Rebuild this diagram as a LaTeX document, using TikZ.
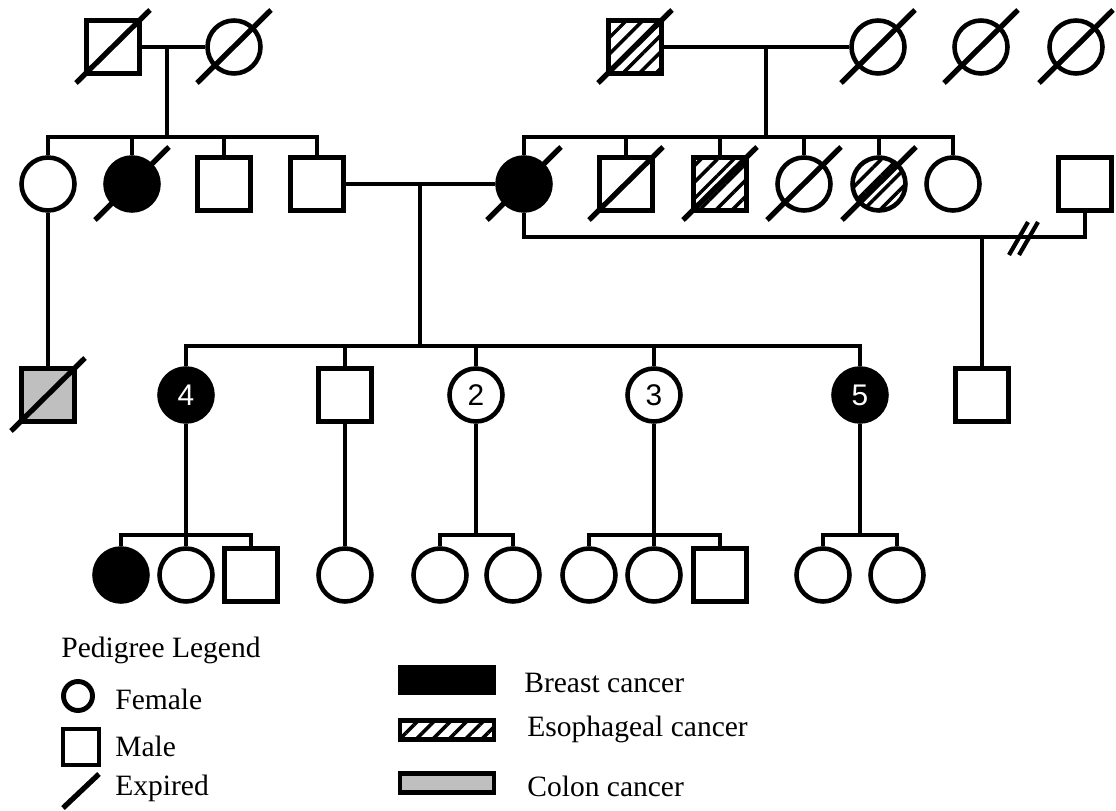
\documentclass[tikz,border=0pt]{standalone}
\usepackage{fontspec}
\setmainfont{Liberation Serif}
\newfontfamily\digitfont{Liberation Sans}
\usetikzlibrary{patterns.meta}
\tikzset{
  person/.style={draw=black, line width=2.6pt, inner sep=0pt, minimum size=1.06cm},
  female/.style={person, circle},
  male/.style={person, rectangle},
  breast/.style={fill=black},
  esoph/.style={pattern={Lines[angle=45,distance=6.6pt,line width=2pt]}},
  colon/.style={fill=black!25},
  numtag/.style={font=\digitfont\fontsize{17pt}{19pt}\selectfont},
  kinline/.style={draw=black, line width=2.3pt},
  slash/.style={draw=black, line width=3pt},
  legbox/.style={draw=black, line width=2.6pt, inner sep=0pt, minimum width=1.88cm},
  legtext/.style={anchor=west, inner sep=0pt, font=\fontsize{16.8pt}{19pt}\selectfont}
}
\newcommand{\expire}[1]{\draw[slash] ([shift={(-37,36)}]#1.center) -- ([shift={(37,-37)}]#1.center);}

\begin{document}
\begin{tikzpicture}[x=0.02cm, y=-0.02cm]
    \useasboundingbox (0,0) rectangle (1116,811);

    % generation I
    \node[male] (iA) at (113,47) {};
    \node[female] (iB) at (234,47) {};
    \node[male, esoph] (iC) at (635,47) {};
    \node[female] (iD) at (878,47) {};
    \node[female] (iE) at (981,47) {};
    \node[female] (iF) at (1076,47) {};

    % generation II
    \node[female] (iiA) at (48,184) {};
    \node[female, breast] (iiB) at (132,184) {};
    \node[male] (iiC) at (224,184) {};
    \node[male] (iiD) at (317,184) {};
    \node[female, breast] (iiE) at (524,184) {};
    \node[male] (iiF) at (626,184) {};
    \node[male, esoph] (iiG) at (720,184) {};
    \node[female] (iiH) at (804,184) {};
    \node[female, esoph] (iiI) at (879,184) {};
    \node[female] (iiJ) at (953,184) {};
    \node[male] (iiK) at (1085,184) {};

    % generation III
    \node[male, colon] (iiiA) at (48,395) {};
    \node[female, breast, numtag, text=white] (iiiB) at (186,395) {4};
    \node[male] (iiiC) at (345,395) {};
    \node[female, numtag] (iiiD) at (476,395) {2};
    \node[female, numtag] (iiiE) at (654,395) {3};
    \node[female, breast, numtag, text=white] (iiiF) at (860,395) {5};
    \node[male] (iiiG) at (982,395) {};

    % generation IV
    \node[female, breast] (ivA) at (121,575) {};
    \node[female] (ivB) at (186,575) {};
    \node[male] (ivC) at (251,575) {};
    \node[female] (ivD) at (345,575) {};
    \node[female] (ivE) at (440,575) {};
    \node[female] (ivF) at (513,575) {};
    \node[female] (ivG) at (589,575) {};
    \node[female] (ivH) at (654,575) {};
    \node[male] (ivI) at (720,575) {};
    \node[female] (ivJ) at (823,575) {};
    \node[female] (ivK) at (897,575) {};

    \expire{iA} \expire{iB} \expire{iC} \expire{iD} \expire{iE} \expire{iF}
    \expire{iiB} \expire{iiE} \expire{iiF} \expire{iiG} \expire{iiH} \expire{iiI}
    \expire{iiiA}

    % unions and sibships
    \coordinate (m1) at (167,47);
    \coordinate (s1) at (167,137);
    \draw[kinline] (iA) -- (iB);
    \draw[kinline] (m1) -- (s1);
    \draw[kinline] (iiA.north) |- (s1) -| (iiD.north);
    \draw[kinline] (iiB.north) -- (iiB.north |- s1);
    \draw[kinline] (iiC.north) -- (iiC.north |- s1);

    \coordinate (m2) at (766,47);
    \coordinate (s2) at (766,137);
    \draw[kinline] (iC) -- (iD);
    \draw[kinline] (m2) -- (s2);
    \draw[kinline] (iiE.north) |- (s2) -| (iiJ.north);
    \draw[kinline] (iiF.north) -- (iiF.north |- s2);
    \draw[kinline] (iiG.north) -- (iiG.north |- s2);
    \draw[kinline] (iiH.north) -- (iiH.north |- s2);
    \draw[kinline] (iiI.north) -- (iiI.north |- s2);

    \coordinate (m3) at (420,184);
    \coordinate (s3) at (420,346);
    \draw[kinline] (iiD) -- (iiE);
    \draw[kinline] (m3) -- (s3);
    \draw[kinline] (iiiB.north) |- (s3) -| (iiiF.north);
    \draw[kinline] (iiiC.north) -- (iiiC.north |- s3);
    \draw[kinline] (iiiD.north) -- (iiiD.north |- s3);
    \draw[kinline] (iiiE.north) -- (iiiE.north |- s3);

    \coordinate (m4) at (982,237);
    \coordinate (dv) at (1023,238);
    \draw[kinline] (iiE.south) |- (m4) -| (iiK.south);
    \draw[kinline] (m4) -- (iiiG);
    \draw[slash, line width=2.4pt] ([shift={(-14,17)}]dv) -- ([shift={(5,-16)}]dv);
    \draw[slash, line width=2.4pt] ([shift={(-4,17)}]dv) -- ([shift={(15,-16)}]dv);

    \draw[kinline] (iiA) -- (iiiA);

    \coordinate (s5) at (186,535);
    \draw[kinline] (iiiB) -- (s5);
    \draw[kinline] (ivA.north) |- (s5) -| (ivC.north);
    \draw[kinline] (ivB) -- (s5);
    \draw[kinline] (iiiC) -- (ivD);
    \coordinate (s6) at (476,535);
    \draw[kinline] (iiiD) -- (s6);
    \draw[kinline] (ivE.north) |- (s6) -| (ivF.north);
    \coordinate (s7) at (654,535);
    \draw[kinline] (iiiE) -- (s7);
    \draw[kinline] (ivG.north) |- (s7) -| (ivI.north);
    \draw[kinline] (ivH) -- (s7);
    \coordinate (s8) at (860,535);
    \draw[kinline] (iiiF) -- (s8);
    \draw[kinline] (ivJ.north) |- (s8) -| (ivK.north);

    % legend
    \node[legtext] (lgTitle) at (61,650) {Pedigree Legend};
    \node[female, line width=2.8pt, minimum size=0.58cm] (lgF) at (78,696) {};
    \node[legtext] (lgFt) at (115,699) {Female};
    \node[male, line width=2.8pt, minimum size=0.72cm] (lgM) at (81,747) {};
    \node[legtext] (lgMt) at (115,746) {Male};
    \coordinate (lgX1) at (63,808);
    \coordinate (lgX2) at (99,774);
    \draw[slash] (lgX1) -- (lgX2);
    \node[legtext] (lgXt) at (115,788) {Expired};

    \node[legbox, breast, minimum height=0.52cm] (lgB) at (447,680) {};
    \node[legtext] (lgBt) at (524,683) {Breast cancer};
    \node[legbox, esoph, minimum height=0.38cm] (lgE) at (447,730) {};
    \node[legtext] (lgEt) at (527,729) {Esophageal cancer};
    \node[legbox, colon, minimum height=0.38cm] (lgC) at (447,783) {};
    \node[legtext] (lgCt) at (527,786) {Colon cancer};
\end{tikzpicture}
\end{document}
